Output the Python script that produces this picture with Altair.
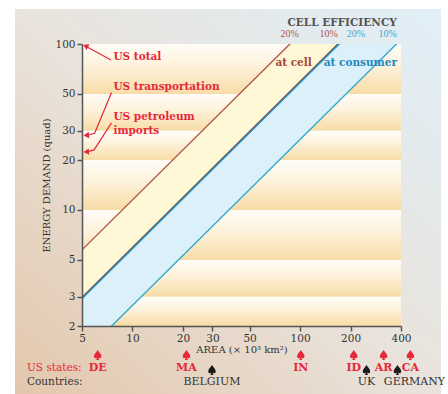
import altair as alt
import pandas as pd

# ---------------- data ----------------
x_ticks = [5, 10, 20, 30, 50, 100, 200, 400]
y_ticks = [2, 3, 5, 10, 20, 30, 50, 100]

band_low = [50, 30, 20, 10, 5, 3, 2]
band_high = [100, 50, 30, 20, 10, 5, 3]

# efficiency lines: energy demand (quad) reached at an area of 5 (x10^3 km2)
line_names = ["cell 20%", "cell 10%", "consumer 20%", "consumer 10%"]
line_d5 = [5.75, 2.97, 2.92, 1.33]
line_colors = ["#B0554B", "#6E3A30", "#2B9BD0", "#33A9CC"]
line_x = [5, 400]

# red annotations on the left
ann_text = ["US total", "US transportation", "US petroleum", "imports"]
ann_x = [7.7, 7.7, 7.7, 7.7]
ann_y = [83.5, 55.0, 36.2, 29.9]

arrow_id = ["total", "total", "trans", "trans", "trans", "petro", "petro", "petro"]
arrow_x = [7.45, 5.3, 7.5, 5.95, 5.35, 7.5, 5.9, 5.35]
arrow_y = [80.0, 96.5, 51.0, 29.0, 28.2, 33.5, 23.0, 22.4]
head_x = [5.25, 5.3, 5.3]
head_y = [97.4, 28.2, 22.4]
head_angle = [296, 265, 265]

# top labels
eff_text = ["20%", "10%", "20%", "10%"]
eff_x = [86.7, 148, 215, 333]
eff_color = ["#B0554B", "#B0554B", "#3AA6D4", "#3AA6D4"]
eff_y = 114.8
head_title_x, head_title_y = 178, 134.6

# bottom reference areas (x10^3 km2)
state_names = ["DE", "MA", "IN", "ID", "AR", "CA"]
state_area = [6.2, 21, 101, 209, 315, 455]
country_names = ["BELGIUM", "UK", "GERMANY"]
country_area = [29.8, 249, 381]
country_dx = [0, 0, 17]

# ---------------- styling ----------------
FONT = "DejaVu Serif"
RED = "#E5283A"
W, H = 319, 282

xs = alt.Scale(type="log", domain=[5, 400], nice=False)
ys = alt.Scale(type="log", domain=[2, 100], nice=False)

axis_common = dict(grid=False, tickSize=5, tickColor="#555", tickWidth=1.5,
                   domainColor="#555", domainWidth=1.5, labelFont=FONT,
                   labelFontSize=10.5, labelColor="#333", labelOverlap=False,
                   labelFlush=False, titleFont=FONT, titleFontSize=10,
                   titleFontWeight="normal", titleColor="#333", zindex=1)
xaxis = alt.Axis(values=x_ticks, format="d", title="AREA (× 10³ km²)",
                 labelPadding=2, titlePadding=1, **axis_common)
yaxis = alt.Axis(values=y_ticks, format="d", title="ENERGY DEMAND (quad)",
                 labelPadding=2, titlePadding=3, **axis_common)


def X(field, **kw):
    return alt.X(field, type="quantitative", scale=xs, axis=xaxis, **kw)


def Y(field, **kw):
    return alt.Y(field, type="quantitative", scale=ys, axis=yaxis, **kw)


# ---------------- frames ----------------
one = pd.DataFrame({"k": [0]})

bg = alt.Chart(one).mark_rect(
    fill=alt.LinearGradient(
        gradient="linear", x1=0, y1=1, x2=1, y2=0,
        stops=[alt.GradientStop(color="#E3C7AC", offset=0),
               alt.GradientStop(color="#E9E3DC", offset=0.5),
               alt.GradientStop(color="#E0EFF8", offset=1)]),
).encode(x=alt.value(-67), x2=alt.value(359), y=alt.value(-35), y2=alt.value(350))

bands_df = pd.DataFrame({"lo": band_low, "hi": band_high,
                         "xa": [line_x[0]] * len(band_low),
                         "xb": [line_x[1]] * len(band_low)})
bands = alt.Chart(bands_df).mark_rect(
    fill=alt.LinearGradient(
        gradient="linear", x1=0, y1=0, x2=0, y2=1,
        stops=[alt.GradientStop(color="#FFFDF8", offset=0),
               alt.GradientStop(color="#FDF1DA", offset=0.45),
               alt.GradientStop(color="#F8DCA6", offset=1)]),
).encode(x=X("xa"), x2="xb", y=Y("lo"), y2="hi")

rows = []
for n, d in zip(line_names, line_d5):
    for xv in line_x:
        rows.append({"name": n, "x": xv, "y": d * xv / line_x[0]})
lines_df = pd.DataFrame(rows)

area_rows = []
for xv in line_x:
    area_rows.append({"band": "yellow", "x": xv,
                      "y": line_d5[0] * xv / line_x[0], "y2": line_d5[1] * xv / line_x[0]})
    area_rows.append({"band": "blue", "x": xv,
                      "y": line_d5[2] * xv / line_x[0], "y2": line_d5[3] * xv / line_x[0]})
area_df = pd.DataFrame(area_rows)

yellow = alt.Chart(area_df).transform_filter(alt.datum.band == "yellow").mark_area(
    clip=True, color="#FEF8D6", opacity=1).encode(x=X("x"), y=Y("y"), y2="y2")
blue = alt.Chart(area_df).transform_filter(alt.datum.band == "blue").mark_area(
    clip=True, color="#DCF0FA", opacity=1).encode(x=X("x"), y=Y("y"), y2="y2")

lines = alt.Chart(lines_df).mark_line(clip=True, strokeWidth=1.4).encode(
    x=X("x"), y=Y("y"),
    color=alt.Color("name:N", scale=alt.Scale(domain=line_names, range=line_colors), legend=None),
    detail="name:N")

# ---------------- annotations ----------------
ann_df = pd.DataFrame({"t": ann_text, "x": ann_x, "y": ann_y})
ann = alt.Chart(ann_df).mark_text(font=FONT, fontSize=10.5, fontWeight="bold",
                                  color=RED, align="left", baseline="middle").encode(
    x=X("x"), y=Y("y"), text="t:N")

arr_df = pd.DataFrame({"id": arrow_id, "x": arrow_x, "y": arrow_y,
                       "o": list(range(len(arrow_x)))})
arrows = alt.Chart(arr_df).mark_line(color=RED, strokeWidth=1.2).encode(
    x=X("x"), y=Y("y"), detail="id:N", order="o:Q")

head_df = pd.DataFrame({"x": head_x, "y": head_y, "a": head_angle})
heads = alt.Chart(head_df).mark_point(shape="triangle-up", filled=True, color=RED,
                                      size=40, opacity=1).encode(
    x=X("x"), y=Y("y"), angle=alt.Angle("a:Q", scale=None))

eff_df = pd.DataFrame({"t": eff_text, "x": eff_x, "c": eff_color, "y": [eff_y] * 4})
eff = alt.Chart(eff_df).mark_text(font="Liberation Serif", fontSize=10,
                                  baseline="middle").encode(
    x=X("x"), y=Y("y"), text="t:N", color=alt.Color("c:N", scale=None))

title_df = pd.DataFrame({"t": ["CELL EFFICIENCY"], "x": [head_title_x], "y": [head_title_y]})
eff_title = alt.Chart(title_df).mark_text(font=FONT, fontSize=10.5, fontWeight="bold",
                                          color="#555", baseline="middle").encode(
    x=X("x"), y=Y("y"), text="t:N")

lab_df = pd.DataFrame({"t": ["at cell", "at consumer"], "x": [117.4, 138.4],
                       "y": [77, 77], "al": ["right", "left"],
                       "c": ["#A8463A", "#1E88BE"]})
at_cell = alt.Chart(lab_df).transform_filter(alt.datum.al == "right").mark_text(
    font=FONT, fontSize=10.5, fontWeight="bold", align="right", baseline="middle").encode(
    x=X("x"), y=Y("y"), text="t:N", color=alt.Color("c:N", scale=None))
at_cons = alt.Chart(lab_df).transform_filter(alt.datum.al == "left").mark_text(
    font=FONT, fontSize=10.5, fontWeight="bold", align="left", baseline="middle").encode(
    x=X("x"), y=Y("y"), text="t:N", color=alt.Color("c:N", scale=None))

SPADE = ("M0,-1 C0.3,-0.5 0.75,-0.15 0.75,0.28 C0.75,0.62 0.38,0.78 0.12,0.52 "
         "L0.3,1 L-0.3,1 L-0.12,0.52 C-0.38,0.78 -0.75,0.62 -0.75,0.28 "
         "C-0.75,-0.15 -0.3,-0.5 0,-1 Z")

st_df = pd.DataFrame({"t": state_names, "x": state_area})
st_mark = alt.Chart(st_df).mark_point(shape=SPADE, filled=True, color=RED, size=100,
                                      opacity=1).encode(x=X("x"), y=alt.value(311))
st_text = alt.Chart(st_df).mark_text(font=FONT, fontSize=11, fontWeight="bold", color=RED,
                                     baseline="middle").encode(
    x=X("x"), y=alt.value(324), text="t:N")

co_df = pd.DataFrame({"t": country_names, "x": country_area, "dx": country_dx})
co_mark = alt.Chart(co_df).mark_point(shape=SPADE, filled=True, color="#1a1a1a", size=100,
                                      opacity=1).encode(x=X("x"), y=alt.value(326))
co_text = alt.Chart(co_df).transform_filter(alt.datum.dx == 0).mark_text(
    font=FONT, fontSize=11, color="#333", baseline="middle").encode(
    x=X("x"), y=alt.value(338), text="t:N")
co_text2 = alt.Chart(co_df).transform_filter(alt.datum.dx != 0).mark_text(
    font=FONT, fontSize=11, color="#333", baseline="middle", dx=17).encode(
    x=X("x"), y=alt.value(338), text="t:N")

row_df = pd.DataFrame({"t": ["US states:", "Countries:"], "c": [RED, "#333"],
                       "py": [324, 338]})
row_lab = alt.Chart(row_df).mark_text(font=FONT, fontSize=10.5, align="left",
                                      baseline="middle").encode(
    x=alt.value(-55), y=alt.Y("py:Q", scale=None), text="t:N",
    color=alt.Color("c:N", scale=None))

chart = alt.layer(
    bg, bands, yellow, blue, lines, arrows, heads, ann, eff, eff_title,
    at_cell, at_cons, st_mark, st_text, co_mark, co_text, co_text2, row_lab
).properties(
    width=W, height=H,
    autosize=alt.AutoSizeParams(type="none"),
    padding={"left": 82, "top": 44, "right": 47, "bottom": 68},
    background="white",
).configure_view(stroke="#555", strokeWidth=1.5).configure(font=FONT)

chart.save("out.html", embed_options={"renderer": "svg", "actions": False})
